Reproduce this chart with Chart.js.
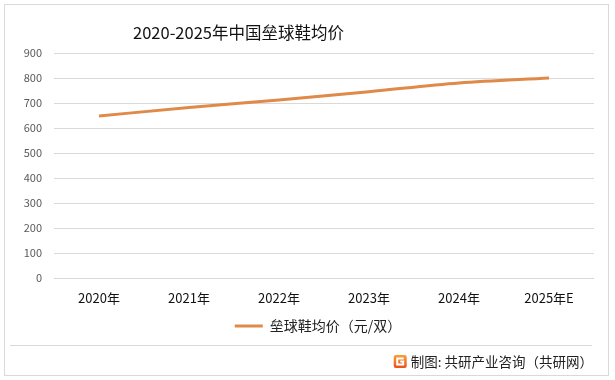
<!DOCTYPE html>
<html>
<head>
<meta charset="utf-8">
<script src="https://cdn.jsdelivr.net/npm/chart.js@4/dist/chart.umd.min.js"></script>
<style>
html,body{margin:0;padding:0;background:#fff;}
#wrap{width:615px;height:380px;position:relative;}
</style>
</head>
<body>
<div id="wrap"><canvas id="c" width="615" height="380"></canvas></div>
<script>
const categories = ['2020年','2021年','2022年','2023年','2024年','2025年E'];
const prices = [648, 682, 712, 745, 780, 800];
const yMin = 0, yMax = 900, yStep = 100;
const seriesName = '垒球鞋均价（元/双）';
const titleText = '2020-2025年中国垒球鞋均价';
const sourceText = '制图: 共研产业咨询（共研网）';

const FONT = '"Noto Sans CJK SC", "Microsoft YaHei", sans-serif';

const decor = {
  id: 'decor',
  afterLayout(chart) {
    if (chart.legend) {
      chart.legend.left += 21;
      chart.legend.right += 21;
    }
  },
  beforeDraw(chart) {
    const ctx = chart.ctx;
    ctx.save();
    ctx.fillStyle = '#fff';
    ctx.fillRect(0, 0, chart.width, chart.height);
    ctx.strokeStyle = '#d9d9d9';
    ctx.lineWidth = 1;
    ctx.strokeRect(4.5, 4.5, 604, 371);
    ctx.beginPath();
    ctx.moveTo(10, 345.5);
    ctx.lineTo(592, 345.5);
    ctx.stroke();
    ctx.fillStyle = '#111';
    ctx.font = '16.5px ' + FONT;
    ctx.textAlign = 'left';
    ctx.textBaseline = 'middle';
    ctx.fillText(titleText, 133, 33);
    ctx.font = '13.5px ' + FONT;
    ctx.textAlign = 'right';
    ctx.fillStyle = '#222';
    ctx.fillText(sourceText, 593, 362);
    const tw = ctx.measureText(sourceText).width;
    const lx = 593 - tw - 17, ly = 355;
    const g = ctx.createLinearGradient(lx, ly, lx, ly + 13);
    g.addColorStop(0, '#f7a13a');
    g.addColorStop(1, '#e8521e');
    ctx.fillStyle = g;
    ctx.beginPath();
    ctx.roundRect(lx, ly, 13, 13, 2);
    ctx.fill();
    ctx.strokeStyle = '#fff';
    ctx.lineWidth = 2;
    ctx.beginPath();
    ctx.moveTo(lx + 10, ly + 3.5);
    ctx.lineTo(lx + 3.5, ly + 3.5);
    ctx.lineTo(lx + 3.5, ly + 9.5);
    ctx.lineTo(lx + 9.5, ly + 9.5);
    ctx.lineTo(lx + 9.5, ly + 6.5);
    ctx.lineTo(lx + 6.5, ly + 6.5);
    ctx.stroke();
    ctx.restore();
  }
};

new Chart(document.getElementById('c'), {
  type: 'line',
  data: {
    labels: categories,
    datasets: [{
      label: seriesName,
      data: prices,
      borderColor: '#df8a48',
      backgroundColor: '#df8a48',
      borderWidth: 3,
      pointRadius: 0,
      pointHoverRadius: 0,
      tension: 0.3,
      cubicInterpolationMode: 'monotone',
      fill: false
    }]
  },
  options: {
    responsive: false,
    animation: false,
    events: [],
    layout: { padding: { left: 0, right: 21, top: 53, bottom: 37 } },
    plugins: {
      title: { display: false },
      tooltip: { enabled: false },
      legend: {
        display: true,
        position: 'bottom',
        labels: {
          usePointStyle: true,
          pointStyle: 'line',
          pointStyleWidth: 28,
          boxHeight: 14,
          padding: 0,
          color: '#222',
          font: { family: FONT, size: 14 }
        }
      }
    },
    scales: {
      x: {
        offset: true,
        grid: { display: false, drawTicks: false },
        border: { display: false },
        ticks: {
          color: '#111',
          padding: 12,
          maxRotation: 0,
          font: { family: FONT, size: 13 }
        },
        afterFit(s) { s.height = 41; }
      },
      y: {
        min: yMin,
        max: yMax,
        grid: { color: '#d9d9d9', drawTicks: false, lineWidth: 1 },
        border: { display: false },
        ticks: {
          stepSize: yStep,
          color: '#595959',
          padding: 12,
          font: { family: FONT, size: 11 }
        },
        afterFit(s) { s.width = 54; }
      }
    }
  },
  plugins: [decor]
});
</script>
</body>
</html>
